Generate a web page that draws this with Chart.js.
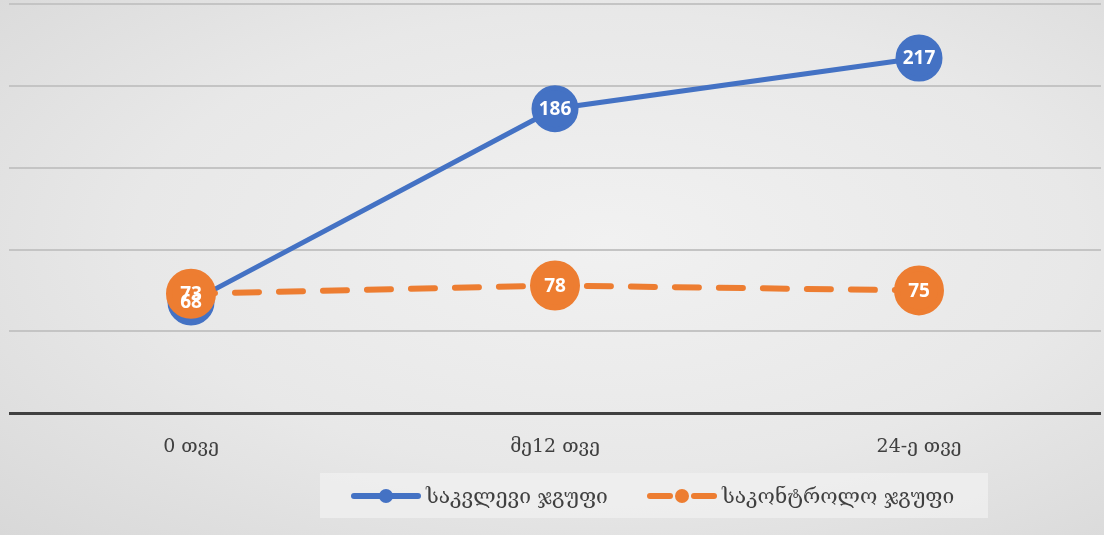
<!DOCTYPE html>
<html>
<head>
<meta charset="utf-8">
<script src="https://cdn.jsdelivr.net/npm/chart.js@4/dist/chart.umd.min.js"></script>
<style>
    html, body { margin: 0; padding: 0; }
    body {
        width: 1104px; height: 535px; overflow: hidden; position: relative;
        background: radial-gradient(ellipse at 55% 45%, #f1f1f1 0%, #e8e8e8 55%, #d8d8d8 100%);
    }
    #wrap { position: absolute; left: 0; top: 0; width: 1104px; height: 480px; }
    #legend {
        position: absolute; left: 320px; top: 473px; width: 668px; height: 45px;
        background: rgba(240,240,240,0.75);
        font-family: 'DejaVu Serif', serif; font-size: 21px; color: #404040;
    }
    .item { display: flex; align-items: center; position: absolute; top: 0; height: 45px; }
    .item canvas { margin-right: 4px; }
</style>
</head>
<body>
<div id="wrap"><canvas id="chart"></canvas></div>
<div id="legend"></div>
<script>
const categories = ['0 თვე', 'მე12 თვე', '24-ე თვე'];
const studyGroup   = [68, 186, 217];
const controlGroup = [73, 78, 75];
const seriesNames  = ['საკვლევი ჯგუფი', 'საკონტროლო ჯგუფი'];
const yTicks = [0, 50, 100, 150, 200, 250];

const BLUE   = '#4472c4';
const ORANGE = '#ed7d31';

// white numbers inside the big markers
const pointLabels = {
    id: 'pointLabels',
    afterDatasetsDraw(chart) {
        const ctx = chart.ctx;
        ctx.save();
        ctx.font = 'bold 19px "Open Sans", sans-serif';
        ctx.fillStyle = '#ffffff';
        ctx.textAlign = 'center';
        ctx.textBaseline = 'middle';
        chart.data.datasets.forEach((ds, i) => {
            chart.getDatasetMeta(i).data.forEach((pt, j) => {
                ctx.fillText(String(ds.data[j]), pt.x, pt.y + 1);
            });
        });
        ctx.restore();
    }
};

const ctx = document.getElementById('chart');
new Chart(ctx, {
    type: 'line',
    data: {
        labels: categories,
        datasets: [
            {
                label: seriesNames[0],
                data: studyGroup,
                borderColor: BLUE,
                backgroundColor: BLUE,
                pointBackgroundColor: BLUE,
                pointBorderColor: BLUE,
                borderWidth: 5,
                pointRadius: 21,
                pointHoverRadius: 21,
                tension: 0,
                fill: false,
                clip: false,
                order: 1,
            },
            {
                label: seriesNames[1],
                data: controlGroup,
                borderColor: ORANGE,
                backgroundColor: ORANGE,
                pointBackgroundColor: ORANGE,
                pointBorderColor: ORANGE,
                borderWidth: 6,
                borderDash: [24, 20],
                borderCapStyle: 'round',
                pointRadius: 22,
                pointHoverRadius: 22,
                tension: 0,
                fill: false,
                clip: false,
                order: 0,
            },
        ],
    },
    options: {
        responsive: true,
        maintainAspectRatio: false,
        animation: false,
        layout: { autoPadding: false, padding: { left: 9, right: 3, top: 4, bottom: 0 } },
        scales: {
            y: {
                min: 0,
                max: 250,
                afterBuildTicks: axis => { axis.ticks = yTicks.map(v => ({ value: v })); },
                ticks: { display: false },
                border: { display: false },
                grid: {
                    drawTicks: false,
                    color: c => c.tick && c.tick.value === 0 ? '#404040' : '#c4c4c4',
                    lineWidth: c => c.tick && c.tick.value === 0 ? 3 : 2,
                },
            },
            x: {
                offset: true,
                border: { display: false },
                grid: { display: false, drawTicks: false },
                ticks: {
                    color: '#404040',
                    padding: 22,
                    font: { family: 'DejaVu Serif', size: 19 },
                },
            },
        },
        plugins: {
            legend: { display: false },
            tooltip: { enabled: false },
        },
    },
    plugins: [pointLabels],
});

// legend: line with a dot, like the office chart
function symbol(color, dashed) {
    const c = document.createElement('canvas');
    c.width = 72; c.height = 20;
    const g = c.getContext('2d');
    g.strokeStyle = color; g.fillStyle = color;
    g.lineWidth = 6; g.lineCap = 'round';
    if (dashed) {
        g.beginPath(); g.moveTo(4, 10); g.lineTo(24, 10); g.stroke();
        g.beginPath(); g.moveTo(48, 10); g.lineTo(68, 10); g.stroke();
    } else {
        g.beginPath(); g.moveTo(4, 10); g.lineTo(68, 10); g.stroke();
    }
    g.beginPath(); g.arc(36, 10, 7, 0, Math.PI * 2); g.fill();
    return c;
}

const legend = document.getElementById('legend');
[[seriesNames[0], BLUE, false, 30], [seriesNames[1], ORANGE, true, 326]].forEach(([name, color, dashed, left]) => {
    const item = document.createElement('div');
    item.className = 'item';
    item.style.left = left + 'px';
    item.appendChild(symbol(color, dashed));
    const span = document.createElement('span');
    span.textContent = name;
    item.appendChild(span);
    legend.appendChild(item);
});
</script>
</body>
</html>
